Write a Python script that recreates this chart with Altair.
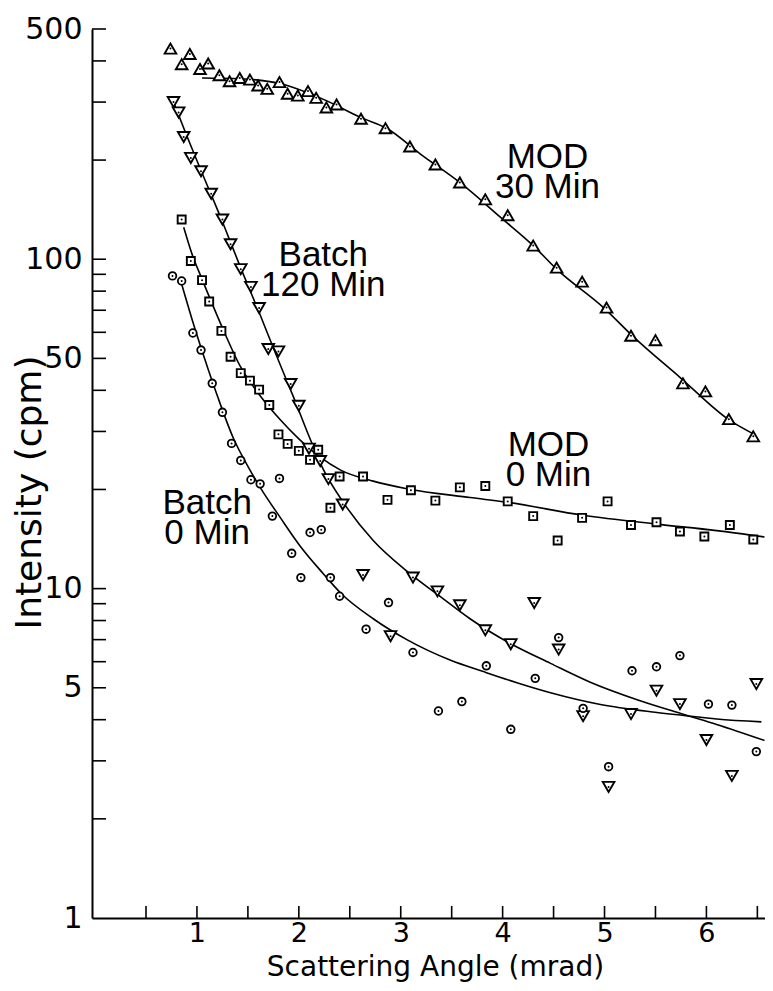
import altair as alt
import pandas as pd

# ---------------- data ----------------
# MOD 30 Min (triangles up)
mod30_x = [0.74, 0.93, 0.85, 1.03, 1.11, 1.22, 1.32, 1.42, 1.52, 1.60, 1.69, 1.81, 1.89, 1.99,
           2.09, 2.17, 2.27, 2.37, 2.61, 2.85, 3.09, 3.34, 3.58, 3.83, 4.05, 4.30, 4.53, 4.78,
           5.02, 5.26, 5.50, 5.77, 5.99, 6.22, 6.46]
mod30_y = [436, 420, 391, 378, 393, 362, 347, 355, 351, 337, 329, 345, 318, 314,
           324, 309, 289, 295, 267, 250, 220, 194, 171, 152, 136, 110, 94.3, 85.5,
           71.3, 58.6, 56.8, 42.0, 39.7, 32.7, 29.0]
mod30_fit_x = [1.05, 1.43, 1.82, 2.28, 2.60, 2.87, 3.19, 3.58, 3.98, 4.30, 4.53, 4.99, 5.29, 5.74, 6.23, 6.46]
mod30_fit_y = [355, 353, 341, 302, 270, 249, 209, 171, 134, 110, 93.3, 71.3, 57.9, 43.8, 32.4, 29.5]

# Batch 120 Min (triangles down)
b120_x = [0.77, 0.82, 0.87, 0.94, 1.04, 1.14, 1.25, 1.33, 1.43, 1.53, 1.61, 1.70, 1.80, 1.92,
          2.00, 2.10, 2.21, 2.29, 2.43, 2.63, 2.90, 3.12, 3.36, 3.58, 3.83, 4.08, 4.31, 4.55,
          4.79, 5.04, 5.26, 5.51, 5.74, 6.00, 6.25, 6.49]
b120_y = [300, 279, 235, 203, 185, 158, 132, 111, 93.3, 82.4, 71.1, 53.4, 52.5, 41.8,
          35.9, 26.6, 24.4, 21.5, 18.0, 11.0, 7.17, 10.8, 9.81, 8.90, 7.47, 6.78, 9.04, 6.53,
          4.10, 2.50, 4.16, 4.90, 4.46, 3.47, 2.70, 5.13]
b120_fit_x = [0.77, 0.90, 1.04, 1.25, 1.43, 1.61, 1.78, 1.95, 2.10, 2.24, 2.44, 2.73, 3.06, 3.39,
              3.68, 4.08, 4.47, 4.86, 5.32, 5.78, 6.10, 6.57]
b120_fit_y = [300, 237, 186, 130, 94, 69, 51, 38, 29, 23.0, 18.2, 14.0, 11.3, 9.45,
              8.1, 6.8, 5.93, 5.2, 4.6, 4.15, 3.87, 3.46]

# MOD 0 Min (squares)
mod0_x = [0.85, 0.94, 1.05, 1.12, 1.24, 1.33, 1.43, 1.52, 1.61, 1.71, 1.80, 1.89, 2.00, 2.11,
          2.19, 2.31, 2.40, 2.63, 2.87, 3.10, 3.34, 3.58, 3.83, 4.05, 4.30, 4.54, 4.78, 5.03,
          5.26, 5.51, 5.74, 5.98, 6.23, 6.46]
mod0_y = [132, 98.8, 86.4, 74.4, 60.6, 50.6, 45.1, 42.8, 40.2, 36.1, 29.4, 27.5, 26.2, 24.6,
          26.4, 17.6, 21.9, 21.9, 18.6, 19.9, 18.5, 20.3, 20.5, 18.4, 16.6, 14.0, 16.4, 18.4,
          15.6, 15.9, 14.9, 14.4, 15.6, 14.1]
mod0_fit_x = [0.87, 0.95, 1.05, 1.23, 1.43, 1.62, 1.82, 2.00, 2.20, 2.41, 2.73, 3.06, 3.68, 4.04,
              4.79, 5.51, 6.10, 6.57]
mod0_fit_y = [125, 104, 87, 64, 47, 38.5, 32.5, 28.5, 25.2, 22.9, 21.2, 20.1, 18.9, 18.3,
              16.7, 15.7, 15.0, 14.35]

# Batch 0 Min (circles)
b0_x = [0.76, 0.85, 0.96, 1.04, 1.15, 1.25, 1.34, 1.43, 1.53, 1.62, 1.81, 1.74, 2.11, 2.22,
        1.93, 2.02, 2.31, 2.40, 2.88, 2.66, 3.12, 3.37, 3.60, 3.84, 4.08, 4.32, 4.55, 4.79,
        5.04, 5.27, 5.51, 5.74, 6.02, 6.25, 6.49]
b0_y = [89.0, 85.9, 59.7, 53.0, 42.0, 34.3, 27.6, 24.5, 21.4, 20.8, 21.6, 16.6, 14.8, 15.1,
        12.8, 10.8, 10.8, 9.48, 9.07, 7.53, 6.40, 4.25, 4.54, 5.83, 3.74, 5.34, 7.10, 4.33,
        2.88, 5.63, 5.79, 6.26, 4.46, 4.43, 3.20]
b0_fit_x = [0.85, 0.95, 1.07, 1.20, 1.36, 1.50, 1.62, 1.82, 2.01, 2.24, 2.41, 2.73, 3.06, 3.49,
            3.81, 4.14, 4.47, 4.96, 5.45, 5.78, 6.10, 6.54]
b0_fit_y = [84, 66, 50.5, 38.5, 28.5, 23.5, 20.3, 16.4, 13.5, 11.1, 9.7, 8.1, 7.0, 6.06,
            5.6, 5.18, 4.83, 4.45, 4.23, 4.12, 4.02, 3.94]

# annotations (first-line baseline anchor)
ann_text = ["MOD\n30 Min", "MOD\n0 Min", "Batch\n120 Min", "Batch\n0 Min"]
ann_x = [4.44, 4.45, 2.24, 1.10]
ann_y = [189.5, 25.3, 95.5, 16.9]

# axis ticks
x_tick_labels = [1, 2, 3, 4, 5, 6]
x_ticks = [0.5, 1, 1.5, 2, 2.5, 3, 3.5, 4, 4.5, 5, 5.5, 6, 6.5]
y_tick_labels = [1, 5, 10, 50, 100, 500]
y_ticks = [2, 3, 4, 5, 6, 7, 8, 9, 10, 20, 30, 40, 50, 60, 70, 80, 90, 100, 200, 300, 400, 500]

# ---------------- build tables ----------------
series_pts = [
    ("MOD 30 Min", mod30_x, mod30_y, "triangle-up", 135, 1.9),
    ("Batch 120 Min", b120_x, b120_y, "triangle-down", 135, 1.9),
    ("MOD 0 Min", mod0_x, mod0_y, "square", 64, 1.9),
    ("Batch 0 Min", b0_x, b0_y, "circle", 58, 1.8),
]
fits = [
    ("MOD 30 Min", mod30_fit_x, mod30_fit_y),
    ("Batch 120 Min", b120_fit_x, b120_fit_y),
    ("MOD 0 Min", mod0_fit_x, mod0_fit_y),
    ("Batch 0 Min", b0_fit_x, b0_fit_y),
]
fit_df = pd.concat([pd.DataFrame({"x": fx, "y": fy, "series": n}) for n, fx, fy in fits], ignore_index=True)
all_pts = pd.concat([pd.DataFrame({"x": px, "y": py, "series": n}) for n, px, py, _, _, _ in series_pts],
                    ignore_index=True)
ann_df = pd.DataFrame({"text": ann_text, "x": ann_x, "y": ann_y})

W, H = 673, 889
xscale = alt.Scale(domain=[-0.03, 6.575], nice=False, zero=False)
yscale = alt.Scale(type="log", domain=[1, 500], nice=False)

x_axis = alt.Axis(values=x_tick_labels, format="d", labelPadding=2, labelFontSize=27,
                  labelFlush=False, labelOverlap=False,
                  title="Scattering Angle (mrad)", titleFontSize=28, titleX=343, titleY=57,
                  titleAlign="center", titleBaseline="alphabetic")
y_axis = alt.Axis(values=y_tick_labels, format="d", labelPadding=10, labelFontSize=30,
                  labelFlush=False, labelOverlap=False,
                  title="Intensity (cpm)", titleFontSize=36, titleAngle=270, titleX=-63, titleY=463,
                  titleAlign="center", titleBaseline="middle")


def X(field):
    return alt.X(field, scale=xscale, axis=x_axis)


def Y(field):
    return alt.Y(field, scale=yscale, axis=y_axis)


lines = alt.Chart(fit_df).mark_line(color="black", strokeWidth=1.6, interpolate="monotone", clip=True).encode(
    x=X("x:Q"), y=Y("y:Q"), detail="series:N", order="x:Q",
)

marker_layers = []
for n, px, py, shp, sz, sw in series_pts:
    d = pd.DataFrame({"x": px, "y": py})
    marker_layers.append(
        alt.Chart(d).mark_point(shape=shp, size=sz, filled=True, fill="white", stroke="black",
                                strokeWidth=sw, opacity=1).encode(x=X("x:Q"), y=Y("y:Q"))
    )

dots = alt.Chart(all_pts).mark_point(shape="circle", size=4, filled=True, color="black", opacity=1).encode(
    x=X("x:Q"), y=Y("y:Q"),
)

xt = alt.Chart(pd.DataFrame({"x": x_ticks})).mark_rule(color="black", strokeWidth=1.6).encode(
    x=X("x:Q"), y=alt.value(H - 12), y2=alt.value(H))
yt = alt.Chart(pd.DataFrame({"y": y_ticks})).mark_rule(color="black", strokeWidth=1.6).encode(
    y=Y("y:Q"), x=alt.value(0), x2=alt.value(14))

ann = alt.Chart(ann_df).mark_text(font="Liberation Sans", fontSize=35, align="center",
                                  baseline="alphabetic", lineBreak="\n", lineHeight=30.5,
                                  color="black").encode(
    x=X("x:Q"), y=Y("y:Q"), text="text:N",
)

chart = alt.layer(lines, *marker_layers, dots, xt, yt, ann).properties(
    width=W, height=H,
    autosize=alt.AutoSizeParams(type="none"),
    padding={"left": 84, "top": 21, "right": 0, "bottom": 64},
    background="white",
).configure_view(stroke=None).configure_axis(
    grid=False, ticks=False, tickSize=0,
    domainColor="black", domainWidth=2,
    labelFont="DejaVu Sans", labelColor="black",
    titleFont="DejaVu Sans", titleFontWeight="normal", titleColor="black",
)

chart.save("out.html", embed_options={"renderer": "svg", "actions": False})
